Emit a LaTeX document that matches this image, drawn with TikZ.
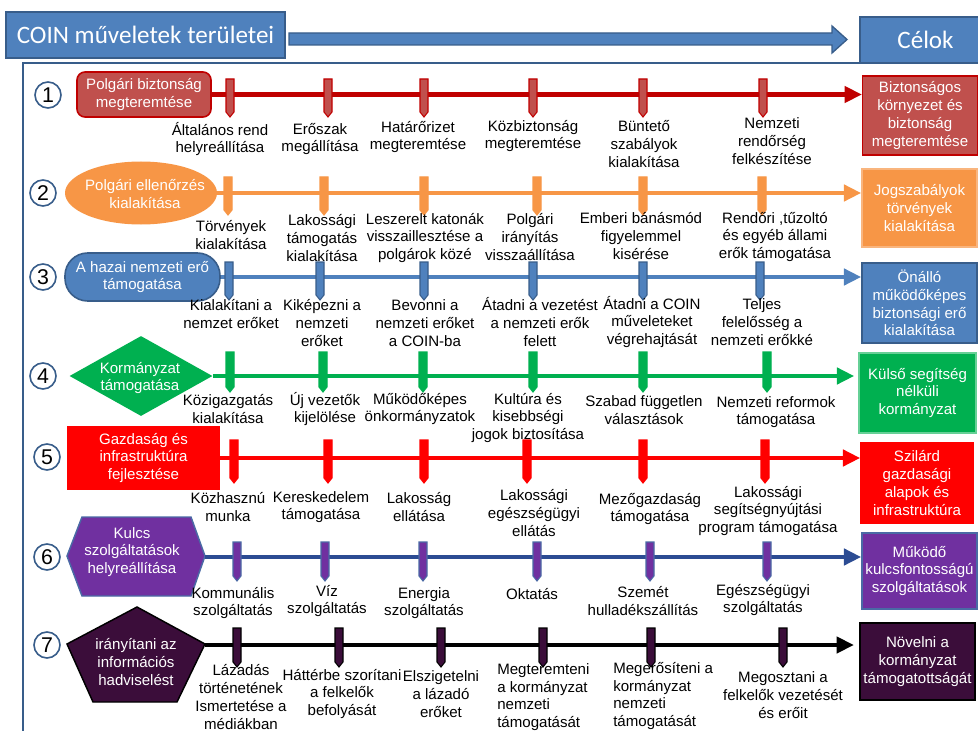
\documentclass[tikz,border=0pt]{standalone}
\usepackage{fontspec}
\setmainfont{Liberation Sans}
\newfontfamily\calib{Carlito}
\usetikzlibrary{arrows.meta,shapes.geometric}
\definecolor{bl}{HTML}{4F81BD}
\definecolor{bld}{HTML}{385D8A}
\definecolor{rd}{HTML}{C0504D}
\definecolor{rdd}{HTML}{C00000}
\definecolor{org}{HTML}{F79646}
\definecolor{grn}{HTML}{00B050}
\definecolor{redf}{HTML}{FF0000}
\definecolor{pur}{HTML}{7030A0}
\definecolor{navy}{HTML}{2C4C93}
\definecolor{dpur}{HTML}{3B0D3A}
\definecolor{hexb}{HTML}{4A6AA5}
\begin{document}
\begin{tikzpicture}[x=0.75pt,y=-0.75pt,
 lbl/.style={font=\fontsize{11.3}{13.3}\selectfont, align=center, inner sep=0pt},
 wlbl/.style={lbl, text=white},
 tgt/.style={wlbl, minimum width=86pt, minimum height=59pt, line width=1.1pt},
 mline/.style={line width=3.5pt, -{Triangle[length=13pt,width=12pt]}},
 num/.style={circle, draw=bld, line width=1.2pt, fill=white, minimum size=19.5pt, inner sep=0pt, font=\fontsize{16}{16}\selectfont},
 hdr/.style={fill=bl, draw=bld, line width=1pt, text=white, font=\calib\fontsize{18.8}{22}\selectfont},
]
\useasboundingbox (0,0) rectangle (978,731);
% frame
\draw[bld, line width=1.5pt] (23,735) -- (23,63) -- (860,63);
% header
\node[hdr, minimum width=209.25pt, minimum height=34.5pt] (title) at (145.5,35) {COIN műveletek területei};
\node[hdr, minimum width=98.25pt, minimum height=34.5pt] (celok) at (925.5,40) {Célok};
\path[fill=bl, draw=bld, line width=1pt] (289,33) -- (832,33) -- (832,26) -- (847,39.5) -- (832,53) -- (832,45) -- (289,45) -- cycle;

% ---------- Row 1
\node[num] (n1) at (48,95) {1};
\node[wlbl, fill=rd, draw=rdd, line width=1.2pt, rounded corners=6pt, minimum width=100.5pt, minimum height=33.75pt] (s1) at (144,94.5) {Polgári biztonság\\megteremtése};
\node[tgt, fill=rd, draw=rdd] (t1) at (920,115.5) {Biztonságos\\környezet és\\biztonság\\megteremtése};
\draw[mline, rdd] (s1.east) -- (s1.east -| t1.west);
\foreach \x in {230,328,424,533,643,763}
  \path[fill=rd, draw=rdd, line width=0.8pt] (\x-4,79) -- (\x+4,79) -- (\x+4,112) -- (\x,117) -- (\x-4,112) -- cycle;
\node[lbl] (l11) at (220,139) {Általános rend\\helyreállítása};
\node[lbl] (l12) at (320,139) {Erőszak\\megállítása};
\node[lbl] (l13) at (418,137) {Határőrizet\\megteremtése};
\node[lbl] (l14) at (533,136) {Közbiztonság\\megteremtése};
\node[lbl] (l15) at (644,144) {Büntető\\szabályok\\kialakítása};
\node[lbl] (l16) at (772,141) {Nemzeti\\rendőrség\\felkészítése};

% ---------- Row 2
\node[num] (n2) at (43,193) {2};
\node[ellipse, fill=org, minimum width=114pt, minimum height=47.25pt, inner sep=0pt] (s2) at (141,193) {};
\node[wlbl] (s2t) at (145,194) {Polgári ellenőrzés\\kialakítása};
\node[tgt, fill=org, draw=org!70!white, minimum width=86.25pt, minimum height=58.5pt] (t2) at (919.5,208) {Jogszabályok\\törvények\\kialakítása};
\draw[mline, org] (s2.east) -- (s2.east -| t2.west);
\foreach \x in {228,324,424,537,643,762}
  \path[fill=org, draw=org, line width=0.8pt] (\x-4,177) -- (\x+4,177) -- (\x+4,210) -- (\x,215) -- (\x-4,210) -- cycle;
\node[lbl] (l21) at (231,235) {Törvények\\kialakítása};
\node[lbl] (l22) at (322,238) {Lakossági\\támogatás\\kialakítása};
\node[lbl] (l23) at (425,238) {Leszerelt katonák\\visszaillesztése a\\polgárok közé};
\node[lbl] (l24) at (530,237) {Polgári\\irányítás\\visszaállítása};
\node[lbl] (l25) at (641,236) {Emberi bánásmód\\figyelemmel\\kisérése};
\node[lbl] (l26) at (775,237) {Rendőri ,tűzoltó\\és egyéb állami\\erők támogatása};

% ---------- Row 3
\node[num] (n3) at (43,277) {3};
\node[wlbl, fill=bl, draw=bld, line width=1.2pt, rounded corners=17pt, minimum width=116.25pt, minimum height=36pt] (s3) at (142.5,277) {A hazai nemzeti erő\\támogatása};
\node[tgt, fill=bl, draw=bld, minimum width=86.25pt, minimum height=60pt] (t3) at (919.5,303) {Önálló\\működőképes\\biztonsági erő\\kialakítása};
\draw[mline, bl] (s3.east) -- (s3.east -| t3.west);
\foreach \x in {229,320,424,533,643,760}
  \path[fill=bl, draw=bld, line width=0.8pt] (\x-4,262) -- (\x+4,262) -- (\x+4,295) -- (\x,300) -- (\x-4,295) -- cycle;
\node[lbl] (l31) at (231,314) {Kialakítani a\\nemzet erőket};
\node[lbl] (l32) at (322,323) {Kiképezni a\\nemzeti\\erőket};
\node[lbl] (l33) at (425,323) {Bevonni a\\nemzeti erőket\\a COIN-ba};
\node[lbl] (l34) at (540,322) {Átadni a vezetést\\a nemzeti erők\\felett};
\node[lbl] (l35) at (652,322) {Átadni a COIN\\műveleteket\\végrehajtását};
\node[lbl] (l36) at (762,322) {Teljes\\felelősség a\\nemzeti erőkké};

% ---------- Row 4
\node[num] (n4) at (43,376) {4};
\node[diamond, fill=grn, minimum width=107.25pt, minimum height=60pt, inner sep=0pt] (s4) at (141,376) {};
\node[wlbl] (s4t) at (140,378) {Kormányzat\\támogatása};
\node[tgt, fill=grn, draw=grn!60!white, minimum width=87.75pt, minimum height=60pt] (t4) at (917.5,393) {Külső segítség\\nélküli\\kormányzat};
\draw[mline, grn, shorten >=3pt] (s4.east) -- (s4.east -| t4.west);
\foreach \x in {230,323,423,533,643,767}
  \path[fill=grn, draw=grn, line width=0.8pt] (\x-4,352) -- (\x+4,352) -- (\x+4,387) -- (\x,392) -- (\x-4,387) -- cycle;
\node[lbl] (l41) at (228,409) {Közigazgatás\\kialakítása};
\node[lbl] (l42) at (325,409) {Új vezetők\\kijelölése};
\node[lbl] (l43) at (420,409) {Működőképes\\önkormányzatok};
\node[lbl] (l44) at (528,418) {Kultúra és\\kisebbségi\\jogok biztosítása};
\node[lbl] (l45) at (644,410) {Szabad független\\választások};
\node[lbl] (l46) at (776,412) {Nemzeti reformok\\támogatása};

% ---------- Row 5
\node[num] (n5) at (47,457) {5};
\node[wlbl, fill=redf, minimum width=114.75pt, minimum height=48pt] (s5) at (143.5,458) {Gazdaság és\\infrastruktúra\\fejlesztése};
\node[tgt, fill=redf, draw=redf, minimum width=84pt, minimum height=60pt] (t5) at (917,483) {Szilárd\\gazdasági\\alapok és\\infrastruktúra};
\draw[mline, redf] (s5.east) -- (s5.east -| t5.west);
\foreach \x in {234,328,424,527,643,765}
  \path[fill=redf, draw=redf, line width=0.8pt] (\x-4,440) -- (\x+4,440) -- (\x+4,478) -- (\x,483) -- (\x-4,478) -- cycle;
\node[lbl] (l51) at (228,507) {Közhasznú\\munka};
\node[lbl] (l52) at (321,507) {Kereskedelem\\támogatása};
\node[lbl] (l53) at (419,507) {Lakosság\\ellátása};
\node[lbl] (l54) at (534,513) {Lakossági\\egészségügyi\\ellátás};
\node[lbl] (l55) at (650,509) {Mezőgazdaság\\támogatása};
\node[lbl] (l56) at (768,511) {Lakossági\\segítségnyújtási\\program támogatása};

% ---------- Row 6
\node[num] (n6) at (47,557) {6};
\path[fill=pur, draw=hexb, line width=1.1pt] (67,556) -- (82,517) -- (191,517) -- (205,556) -- (191,596) -- (82,596) -- cycle;
\coordinate (s6r) at (205,557);
\node[wlbl] (s6t) at (132,552) {Kulcs\\szolgáltatások\\helyreállítása};
\node[tgt, fill=pur, draw=hexb, minimum width=86.25pt, minimum height=57pt] (t6) at (919.5,571) {Működő\\kulcsfontosságú\\szolgáltatások};
\draw[mline, navy] (s6r) -- (s6r -| t6.west);
\foreach \x in {237,325,423,537,650,767}
  \path[fill=pur, draw=hexb, line width=0.8pt] (\x-4,542) -- (\x+4,542) -- (\x+4,576) -- (\x,581) -- (\x-4,576) -- cycle;
\node[lbl] (l61) at (233,603) {Kommunális\\szolgáltatás};
\node[lbl] (l62) at (327,601) {Víz\\szolgáltatás};
\node[lbl] (l63) at (424,603) {Energia\\szolgáltatás};
\node[lbl] (l64) at (532,594) {Oktatás};
\node[lbl] (l65) at (643,601) {Szemét\\hulladékszállítás};
\node[lbl] (l66) at (763,600) {Egészségügyi\\szolgáltatás};

% ---------- Row 7
\node[num] (n7) at (47,645) {7};
\path[fill=dpur, draw=black, line width=1.1pt] (137,607) -- (205,644) -- (177,702) -- (93,702) -- (67,644) -- cycle;
\coordinate (s7r) at (205,645);
\node[wlbl] (s7t) at (136,662) {irányítani az\\információs\\hadviselést};
\node[tgt, fill=dpur, draw=black, minimum width=86.25pt, minimum height=57.75pt] (t7) at (917.5,661.5) {Növelni a\\kormányzat\\támogatottságát};
\draw[mline, black, shorten >=4pt] (s7r) -- (s7r -| t7.west);
\foreach \x in {237,339,441,543,651,783}
  \path[fill=dpur, draw=black, line width=0.8pt] (\x-4,628) -- (\x+4,628) -- (\x+4,662) -- (\x,667) -- (\x-4,662) -- cycle;
\node[lbl] (l71) at (241,697) {Lázadás\\történetének\\Ismertetése a\\médiákban};
\node[lbl] (l72) at (342,694) {Háttérbe szorítani\\a felkelők\\befolyását};
\node[lbl] (l73) at (441,694) {Elszigetelni\\a lázadó\\erőket};
\node[lbl, align=left, anchor=west] (l74) at (497,697) {Megteremteni\\a kormányzat\\nemzeti\\támogatását};
\node[lbl, align=left, anchor=west] (l75) at (613,696) {Megerősíteni a\\kormányzat\\nemzeti\\támogatását};
\node[lbl] (l76) at (783,695) {Megosztani a\\felkelők vezetését\\és erőit};
\end{tikzpicture}
\end{document}
